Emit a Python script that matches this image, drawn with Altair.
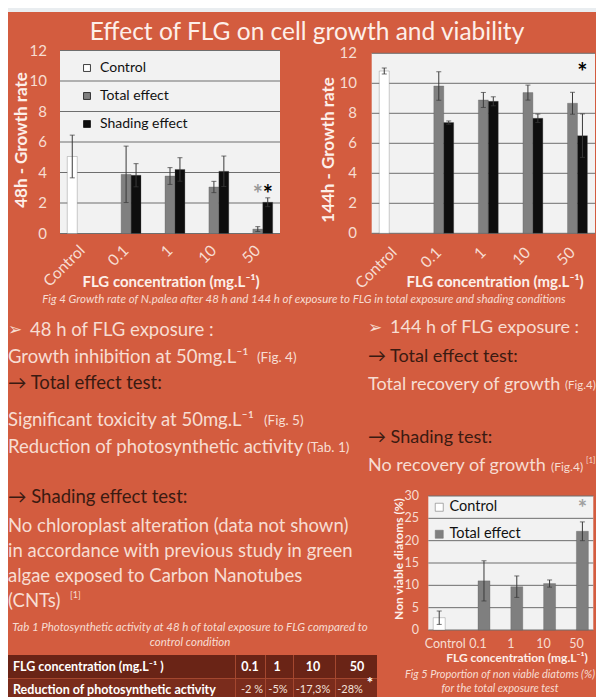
import altair as alt
import pandas as pd

# ---------------- data ----------------
categories = ["Control", "0.1", "1", "10", "50"]
series = ["Control", "Total effect", "Shading effect"]

# Fig 4 – 48 h growth rate
g48_cat = ["Control", "0.1", "0.1", "1", "1", "10", "10", "50", "50"]
g48_ser = ["Control", "Total effect", "Shading effect", "Total effect", "Shading effect",
           "Total effect", "Shading effect", "Total effect", "Shading effect"]
g48_val = [5.05, 3.88, 3.82, 3.77, 4.20, 3.05, 4.08, 0.29, 2.05]
g48_err = [1.40, 1.85, 0.76, 0.55, 0.77, 0.37, 1.00, 0.16, 0.29]

# Fig 4 – 144 h growth rate
g144_cat = g48_cat
g144_ser = g48_ser
g144_val = [10.82, 9.82, 7.38, 8.89, 8.80, 9.38, 7.67, 8.67, 6.51]
g144_err = [0.20, 0.95, 0.11, 0.50, 0.30, 0.50, 0.28, 0.73, 1.45]

# Fig 5 – non viable diatoms (%)
via_cat = ["Control", "0.1", "1", "10", "50"]
via_ser = ["Control", "Total effect", "Total effect", "Total effect", "Total effect"]
via_val = [2.75, 11.0, 9.7, 10.4, 22.1]
via_err = [1.5, 4.5, 2.4, 0.8, 2.1]

# significance marks
sig48_cat = ["50", "50"]
sig48_ser = ["Total effect", "Shading effect"]
sig48_y = [2.45, 2.45]
sig144_cat = ["50"]
sig144_ser = ["Shading effect"]
sig144_y = [10.6]
sig_via_cat = ["50"]
sig_via_ser = ["Total effect"]
sig_via_y = [27.0]

ticks_growth = [0, 2, 4, 6, 8, 10, 12]
ticks_via = [0, 5, 10, 15, 20, 25, 30]

# Tab 1
tab_conc = ["0.1", "1", "10", "50"]
tab_red = ["-2 %", "-5%", "-17,3%", "-28%"]

# ---------------- style ----------------
FONT = "Lato"
ORANGE = "#d35c3f"
LIGHT = "#f7ddd2"
TITLEC = "#fdefe9"
DARK = "#3a1a11"
PLOTBG = "#f2f2f2"
GRID = "#6e6e6e"
BAR_COLORS = ["#ffffff", "#808080", "#0e0e0e"]
BODY = 18.5
REF = 13.5

ONE = pd.DataFrame({"k": [0]})


def txt(s, x, y, size, color=LIGHT, weight="normal", style="normal",
        align="left", angle=0, baseline="middle"):
    return alt.Chart(ONE).mark_text(
        text=s, font=FONT, fontSize=size, color=color, fontWeight=weight,
        fontStyle=style, align=align, baseline=baseline, angle=angle,
    ).encode(x=alt.value(x), y=alt.value(y))


def rect(x0, x1, y0, y1, color):
    return alt.Chart(ONE).mark_rect(color=color).encode(
        x=alt.value(x0), x2=alt.value(x1), y=alt.value(y0), y2=alt.value(y1))


def bar_panel(cats, sers, vals, errs, ticks, ydom, xr, yr, ser_domain, colors,
              tick_x, tick_size, lab_y, lab_angle, lab_size, pin, pout,
              sig_cat, sig_ser, sig_y, sig_colors, legend=None, cap=5, sig_size=22):
    df = pd.DataFrame({"cat": cats, "ser": sers, "val": vals,
                       "lo": [v - e for v, e in zip(vals, errs)],
                       "hi": [v + e for v, e in zip(vals, errs)]})
    xs = alt.Scale(domain=categories, range=list(xr), paddingInner=pin, paddingOuter=pout)
    ys = alt.Scale(domain=list(ydom), range=list(yr), zero=False, nice=False)
    os_ = alt.Scale(domain=ser_domain, paddingInner=0, paddingOuter=0)
    X = alt.X("cat:N", scale=xs, axis=None)
    XO = alt.XOffset("ser:N", scale=os_)

    bg = rect(xr[0], xr[1], yr[1], yr[0], PLOTBG)
    tdf = pd.DataFrame({"t": ticks})
    grid = alt.Chart(tdf).mark_rule(color=GRID, strokeWidth=1).encode(
        y=alt.Y("t:Q", scale=ys, axis=None), x=alt.value(xr[0]), x2=alt.value(xr[1]))
    tlab = alt.Chart(tdf).mark_text(font=FONT, fontSize=tick_size, color=LIGHT,
                                    align="right", baseline="middle").encode(
        y=alt.Y("t:Q", scale=ys, axis=None), x=alt.value(tick_x), text="t:Q")
    bars = alt.Chart(df).mark_bar(stroke="#555555", strokeWidth=0.3).encode(
        x=X, xOffset=XO, y=alt.Y("val:Q", scale=ys, axis=None), y2=alt.value(yr[0]),
        color=alt.Color("ser:N", scale=alt.Scale(domain=ser_domain, range=colors),
                        legend=legend))
    err = alt.Chart(df).mark_rule(color="#3a3a3a", strokeWidth=1).encode(
        x=X, xOffset=XO, y=alt.Y("lo:Q", scale=ys), y2="hi:Q")
    caps_hi = alt.Chart(df).mark_tick(color="#3a3a3a", thickness=1, size=cap).encode(
        x=X, xOffset=XO, y=alt.Y("hi:Q", scale=ys))
    caps_lo = alt.Chart(df).mark_tick(color="#3a3a3a", thickness=1, size=cap).encode(
        x=X, xOffset=XO, y=alt.Y("lo:Q", scale=ys))
    cdf = pd.DataFrame({"cat": categories})
    if lab_angle:
        xlab = alt.Chart(cdf).mark_text(font=FONT, fontSize=lab_size, color=LIGHT,
                                        align="right", baseline="middle",
                                        angle=lab_angle).encode(
            x=X, y=alt.value(lab_y), text="cat:N")
    else:
        xlab = alt.Chart(cdf).mark_text(font=FONT, fontSize=lab_size, color=LIGHT,
                                        align="center", baseline="middle").encode(
            x=X, y=alt.value(lab_y), text="cat:N")
    sdf = pd.DataFrame({"cat": sig_cat, "ser": sig_ser, "y": sig_y})
    sig = alt.Chart(sdf).mark_text(text="*", font=FONT, fontSize=sig_size, fontWeight="bold",
                                   baseline="middle").encode(
        x=X, xOffset=XO, y=alt.Y("y:Q", scale=ys),
        color=alt.Color("ser:N", scale=alt.Scale(domain=ser_domain, range=sig_colors),
                        legend=None))
    return alt.layer(bg, grid, tlab, bars, err, caps_hi, caps_lo, xlab, sig).resolve_scale(
        color="independent")


leg48 = alt.Legend(orient="none", legendX=72, legendY=53, title=None, symbolType="square",
                   symbolSize=48, symbolStrokeColor="#111111", symbolStrokeWidth=0.8,
                   labelFont=FONT, labelFontSize=14, labelColor="#111111", labelOffset=6,
                   rowPadding=14, padding=0)
legvia = alt.Legend(orient="none", legendX=424, legendY=492, title=None, symbolType="square",
                    symbolSize=64, symbolStrokeColor="#777777", symbolStrokeWidth=0.6,
                    labelFont=FONT, labelFontSize=14.5, labelColor="#111111", labelOffset=3,
                    rowPadding=12, padding=0)

p48 = bar_panel(g48_cat, g48_ser, g48_val, g48_err, ticks_growth, (0, 12),
                (52, 272), (225.5, 42.5), series, BAR_COLORS,
                39, 15, 240, 315, 15.5, 0.32, 0.166,
                sig48_cat, sig48_ser, sig48_y, ["#9a9a9a", "#999999", "#000000"],
                legend=leg48, sig_size=24)
p144 = bar_panel(g144_cat, g144_ser, g144_val, g144_err, ticks_growth, (0, 12),
                 (363.7, 587), (225.3, 45.3), series, BAR_COLORS,
                 349, 15, 242, 315, 15.5, 0.33, 0.17,
                 sig144_cat, sig144_ser, sig144_y, ["#000000", "#000000", "#000000"],
                 sig_size=24)
pvia = bar_panel(via_cat, via_ser, via_val, via_err, ticks_via, (0, 30),
                 (420.3, 585.3), (622, 488), ["Control", "Total effect"],
                 ["#ffffff", "#7f7f7f"],
                 411, 12.5, 636, 0, 12.5, 0.27, 0.15,
                 sig_via_cat, sig_via_ser, sig_via_y, ["#a0a0a0", "#a0a0a0"], legend=legvia)

texts = [
    rect(0, 588, 0, 4, "#e9edf0"),
    txt("Effect of FLG on cell growth and viability", 299, 25, 24.5, TITLEC, align="center"),
    # panel titles
    txt("48h - Growth rate", 14, 132, 17, TITLEC, weight="bold", align="center", angle=270),
    txt("144h - Growth rate", 321, 142, 17, TITLEC, weight="bold", align="center", angle=270),
    txt("FLG concentration (mg.L\u207b\u00b9)", 163, 274, 15, TITLEC, weight="bold", align="center"),
    txt("FLG concentration (mg.L\u207b\u00b9)", 487, 274, 15, TITLEC, weight="bold", align="center"),
    txt("Fig 4  Growth rate of N.palea after 48 h and 144 h of exposure to FLG in total exposure and shading conditions",
        296, 292, 11.5, LIGHT, style="italic", align="center"),
    # left column
    txt("\u27a2", 0, 322, 17, LIGHT),
    txt("48 h of FLG exposure :", 22, 322, BODY, LIGHT),
    txt("Growth inhibition at 50mg.L\u207b\u00b9", 0, 349, BODY, LIGHT),
    txt("(Fig. 4)", 249, 350, REF, LIGHT),
    txt("\u2192 Total effect test:", 0, 375, BODY, DARK),
    txt("Significant toxicity at 50mg.L\u207b\u00b9", 0, 412, BODY, LIGHT),
    txt("(Fig. 5)", 256, 413, REF, LIGHT),
    txt("Reduction of photosynthetic activity", 0, 439, BODY, LIGHT),
    txt("(Tab. 1)", 299, 440, REF, LIGHT),
    txt("\u2192 Shading effect test:", 0, 489, BODY, DARK),
    txt("No chloroplast alteration (data not shown)", 0, 518, BODY, LIGHT),
    txt("in accordance with previous study in green", 0, 543, BODY, LIGHT),
    txt("algae exposed to Carbon Nanotubes", 0, 568, BODY, LIGHT),
    txt("(CNTs)", 0, 593, BODY, LIGHT),
    txt("[1]", 62, 587, 9, LIGHT),
    txt("Tab 1  Photosynthetic activity at 48 h of total exposure to FLG  compared to",
        182, 620, 11.5, LIGHT, style="italic", align="center"),
    txt("control condition", 182, 635, 11.5, LIGHT, style="italic", align="center"),
    # right column
    txt("\u27a2", 360, 320, 17, LIGHT),
    txt("144 h of FLG exposure  :", 382, 320, 18, LIGHT),
    txt("\u2192 Total effect test:", 360, 349, 18, DARK),
    txt("Total recovery of growth", 360, 377, 18, LIGHT),
    txt("(Fig.4)", 557, 378, 11.5, LIGHT),
    txt("\u2192 Shading test:", 360, 430, 18, DARK),
    txt("No recovery of growth", 360, 458, 18, LIGHT),
    txt("(Fig.4)", 543, 459, 12, LIGHT),
    txt("[1]", 578, 453, 8, LIGHT),
    # Fig 5 texts
    txt("Non viable diatoms (%)", 391, 551, 12, TITLEC, weight="bold", align="center", angle=270),
    txt("FLG concentration (mg.L\u207b\u00b9)", 509, 650, 12, TITLEC, weight="bold", align="center"),
    txt("Fig 5  Proportion of non viable diatoms (%)", 492, 667, 11, LIGHT, style="italic", align="center"),
    txt("for the total exposure test", 492, 681, 11, LIGHT, style="italic", align="center"),
]

# Tab 1 (table)
col_x = [242, 269, 305, 349]
red_x = [244, 270, 305, 342]
table = [
    rect(0, 369, 647, 670, "#6a2416"),
    rect(0, 369, 671, 689, "#7a2c1c"),
]
for sx in [227, 257, 285, 327]:
    table.append(rect(sx, sx + 1, 647, 689, "#a4472f"))
table.append(rect(0, 369, 670, 671, "#a4472f"))
table.append(txt("FLG concentration (mg.L\u207b\u00b9 )", 5, 659, 12.5, "#ffffff", weight="bold"))
table.append(txt("Reduction of photosynthetic activity", 5, 682, 12.5, "#ffffff", weight="bold"))
for s, cx in zip(tab_conc, col_x):
    table.append(txt(s, cx, 659, 12.5, "#ffffff", weight="bold", align="center"))
for s, cx in zip(tab_red, red_x):
    table.append(txt(s, cx, 682, 11, "#f3e3dc", align="center"))
table.append(txt("*", 362, 675, 15, "#ffffff", weight="bold", align="center"))

chart = alt.layer(*texts, *table, p48, p144, pvia).resolve_scale(
    x="independent", y="independent", color="independent", xOffset="independent"
).resolve_legend(color="independent").properties(
    width=588, height=689, background=ORANGE, padding=0,
    autosize=alt.AutoSizeParams(type="none"),
).configure_view(stroke=None)

chart.save("out.html", embed_options={"renderer": "svg", "actions": False})
